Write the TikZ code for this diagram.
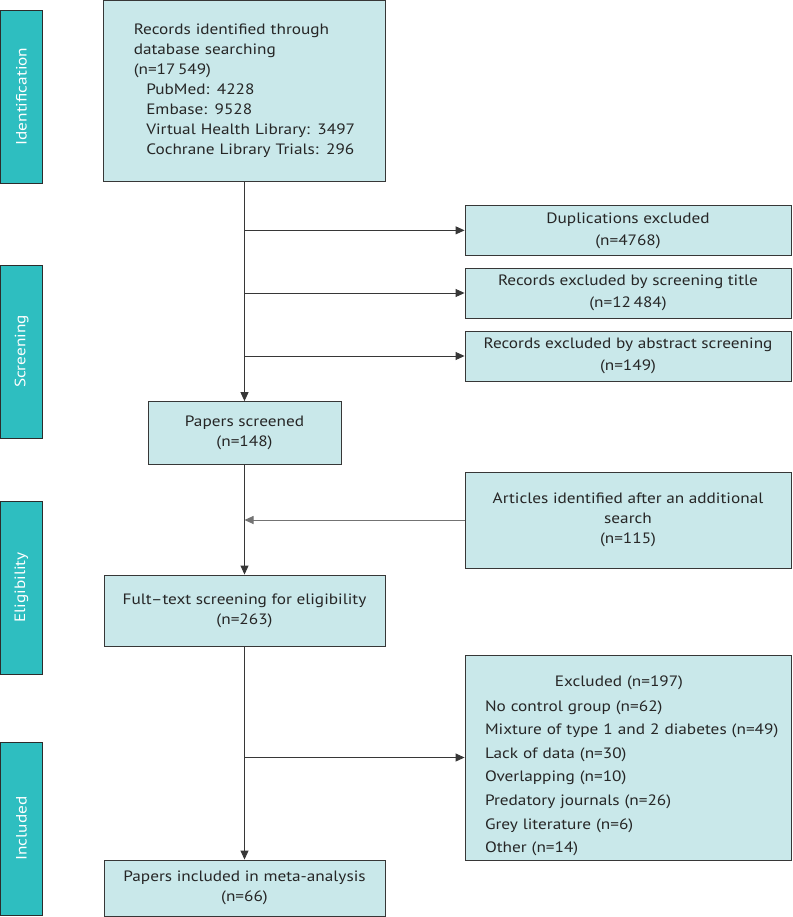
\documentclass[tikz,border=0pt]{standalone}
\usepackage{fontspec}
\setmainfont[FakeStretch=1.15]{PT Sans}
\usetikzlibrary{arrows.meta}
\definecolor{barteal}{RGB}{46,190,192}
\definecolor{boxfill}{RGB}{201,232,234}
\definecolor{edge}{RGB}{55,55,55}
\begin{document}
\begin{tikzpicture}[x=1pt,y=-1pt,
  box/.style={draw=edge,line width=0.9pt,fill=boxfill,inner sep=0pt,align=center,
    font=\fontsize{15}{20}\selectfont,text=black!85},
  phase/.style={draw=edge!80!black,line width=0.9pt,fill=barteal,inner sep=0pt,
    minimum width=42.5pt,minimum height=173pt},
  phasetext/.style={text=white,rotate=90,font=\fontsize{15}{16}\selectfont},
  conn/.style={draw=edge,line width=0.9pt},
  arr/.style={conn,-{Triangle[length=9pt,width=8pt]}}]
\useasboundingbox (0,0) rectangle (792,917);
% phase bars
\node[phase] (pid) at (21.5,96.5) {};
\node[phasetext] at (pid.center) {Identification};
\node[phase] (psc) at (21.5,351.5) {};
\node[phasetext] at (psc.center) {Screening};
\node[phase] (pel) at (21.5,587.5) {};
\node[phasetext] at (pel.center) {Eligibility};
\node[phase] (pin) at (21.5,828.5) {};
\node[phasetext] at (pin.center) {Included};
% main column
\node[box,align=left,text width=221.5pt,inner xsep=30pt,minimum height=180.5pt] (rec) at (244.5,90.75)
  {Records identified through\\database searching\\(n=17\,549)\\
   \hspace*{12.5pt}PubMed: 4228\\
   \hspace*{12.5pt}Embase: 9528\\
   \hspace*{12.5pt}Virtual Health Library: 3497\\
   \hspace*{12.5pt}Cochrane Library Trials: 296};
\node[box,minimum width=193pt,minimum height=62.8pt] (pap) at (244.5,433) {Papers screened\\(n=148)};
\node[box,minimum width=281pt,minimum height=71pt] (full) at (244.5,610.5) {Fult--text screening for eligibility\\(n=263)};
\node[box,minimum width=281pt,minimum height=56.5pt] (inc) at (244.5,888.25) {Papers included in meta-analysis\\(n=66)};
% right column
\node[box,minimum width=326pt,minimum height=49.3pt,font=\fontsize{15}{22}\selectfont] (dup) at (628,230.35) {Duplications excluded\\(n=4768)};
\node[box,minimum width=326pt,minimum height=50pt,font=\fontsize{15}{22}\selectfont] (tit) at (628,293) {Records excluded by screening title\\(n=12\,484)};
\node[box,minimum width=326pt,minimum height=50pt,font=\fontsize{15}{22}\selectfont] (abs) at (628,356) {Records excluded by abstract screening\\(n=149)};
\node[box,minimum width=326pt,minimum height=96pt] (art) at (628,520) {Articles identified after an additional\\search\\(n=115)};
\node[box,align=left,text width=286pt,inner xsep=20pt,minimum height=205pt,font=\fontsize{15}{23.6}\selectfont] (exc) at (628,757.5)
  {\rule{0pt}{27pt}\hspace*{-18pt}\hfill Excluded (n=197)\hfill\null\\[1.4pt]
   No control group (n=62)\\
   \mbox{Mixture of type 1 and 2 diabetes (n=49)}\\
   Lack of data (n=30)\\
   Overlapping (n=10)\\
   Predatory journals (n=26)\\
   Grey literature (n=6)\\
   Other (n=14)};
% connectors
\draw[arr] (rec.south) -- (pap.north);
\draw[arr] (rec.south |- dup.west) -- (dup.west);
\draw[arr] (rec.south |- tit.west) -- (tit.west);
\draw[arr] (rec.south |- abs.west) -- (abs.west);
\draw[arr] (pap.south) -- (full.north);
\draw[arr,draw=edge!70] (art.west) -- (art.west -| pap.south);
\draw[arr] (full.south) -- (inc.north);
\draw[arr] (full.south |- exc.west) -- (exc.west);
\end{tikzpicture}
\end{document}
